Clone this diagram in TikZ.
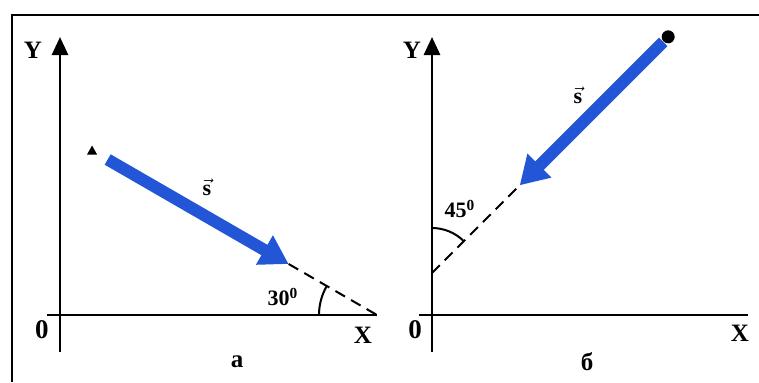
\documentclass[tikz,border=0pt]{standalone}
\usepackage{fontspec}
\setmainfont{Liberation Serif}
\usetikzlibrary{arrows.meta,calc}
\definecolor{vecblue}{RGB}{35,85,215}
\tikzset{
  axis/.style={line width=1.4pt},
  yaxis/.style={axis,-{Triangle[width=8pt,length=9pt]}},
  disp/.style={vecblue,line width=6pt,-{Triangle[width=16pt 0,length=14pt 0]}},
  guide/.style={line width=1pt,dash pattern=on 5.5pt off 3.5pt},
  lbl/.style={font=\fontsize{12.5}{14}\selectfont\bfseries},
  ang/.style={font=\fontsize{11}{12}\selectfont\bfseries},
  vlbl/.style={font=\fontsize{11}{12}\selectfont\bfseries},
}
\begin{document}
\begin{tikzpicture}[x=0.5pt,y=0.5pt]
\useasboundingbox (0,0) rectangle (759,382);
\draw[line width=1.1pt] (12,0) -- (12,367) -- (759,367);
% --- a
\coordinate (Oa) at (60,67);
\coordinate (Va) at (377,67);
\draw[axis] (47,67) -- (Va);
\draw[yaxis] (60,30) -- (60,345);
\node[lbl] (ya) at (33,332) {Y};
\node[lbl,font=\fontsize{13.5}{14}\selectfont\bfseries] (oa) at (42,52) {0};
\node[lbl] (xa) at (363,47) {X};
\node[lbl] (ca) at (237,20) {a};
\coordinate (A) at ($(Va)+(150:329)$);
\fill (A) ++(-5,-4) -- ++(10,0) -- ++(-5,9) -- cycle;
\coordinate (sa) at ($(Va)+(150:311)$);
\coordinate (ea) at ($(Va)+(150:102)$);
\draw[guide] (ea) -- (Va);
\draw[disp] (sa) -- (ea);
\draw[line width=1pt] ($(Va)+(180:58)$) arc (180:150:58);
\node[ang] (ta) at (283,85) {30$^{\mathbf 0}$};
\node[vlbl] (va) at (207,195) {$\vec{\mathbf s}$};
% --- б
\coordinate (Ob) at (432,67);
\coordinate (Vb) at (432,109);
\draw[axis] (419,67) -- (748,67);
\draw[yaxis] (432,30) -- (432,345);
\node[lbl] (yb) at (412,332) {Y};
\node[lbl,font=\fontsize{13.5}{14}\selectfont\bfseries] (ob) at (415,52) {0};
\node[lbl] (xb) at (740,49) {X};
\node[lbl] (cb) at (587,20) {б};
\coordinate (B) at ($(Vb)+(45:334)$);
\fill (B) circle (6.5);
\coordinate (sb) at ($(Vb)+(45:327)$);
\coordinate (eb) at ($(Vb)+(45:124)$);
\draw[guide] (Vb) -- (eb);
\draw[disp] (sb) -- (eb);
\draw[line width=1pt] ($(Vb)+(90:45)$) arc (90:45:45);
\node[ang] (tb) at (460,173) {45$^{\mathbf 0}$};
\node[vlbl] (vb) at (578,287) {$\vec{\mathbf s}$};
\end{tikzpicture}
\end{document}
